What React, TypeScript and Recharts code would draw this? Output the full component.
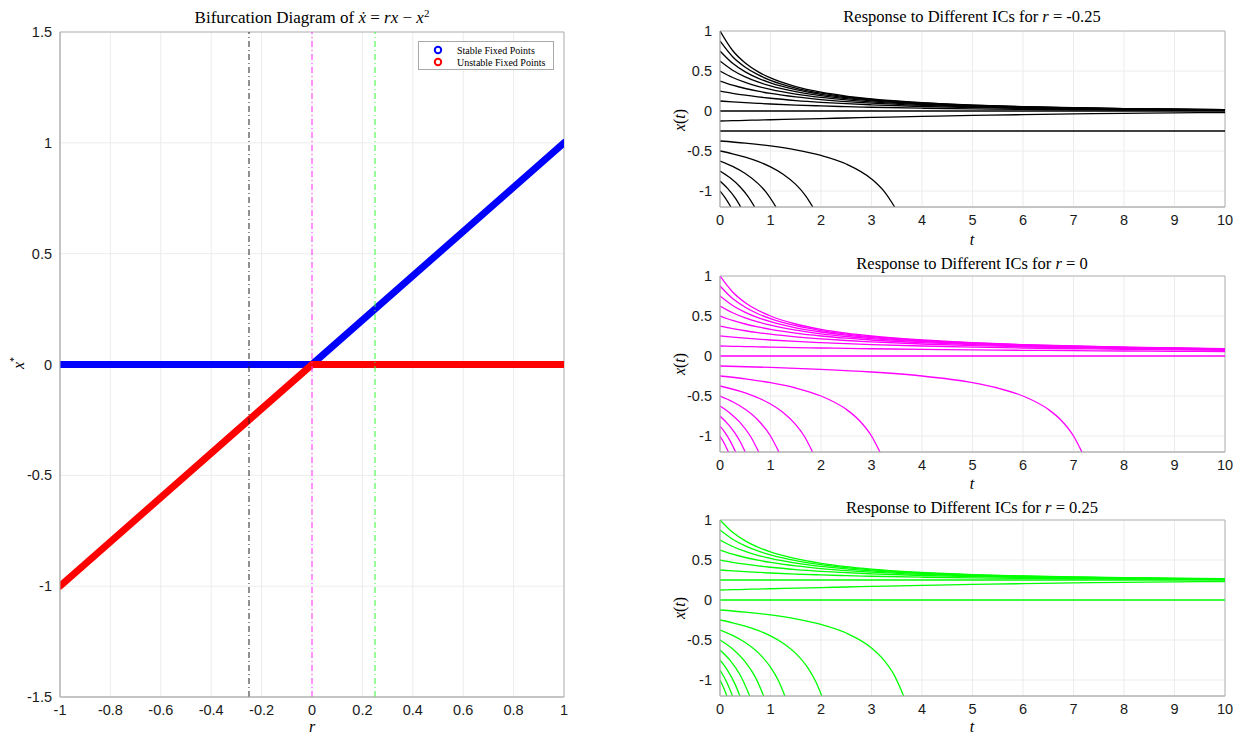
import React from "react"
import { LineChart, Line, XAxis, YAxis, CartesianGrid, ReferenceLine, ReferenceArea } from "recharts"

type Curve = { x0: number; t?: number[]; x: number[] }

const sans = "'Liberation Sans', Arial, Helvetica, sans-serif"
const serif = "'Liberation Serif', 'DejaVu Serif', serif"
const axisGray = "#b4b4b4"
const gridGray = "#ececec"
const tickStyle = { fill: "#1a1a1a", fontSize: 14.5, fontFamily: sans }

// left panel
const rTicks = [-1, -0.8, -0.6, -0.4, -0.2, 0, 0.2, 0.4, 0.6, 0.8, 1]
const xStarTicks = [-1.5, -1, -0.5, 0, 0.5, 1, 1.5]
const stableBranch = [{ r: -1, x: 0 }, { r: 0, x: 0 }, { r: 1, x: 1 }]
const unstableBranch = [{ r: -1, x: -1 }, { r: 0, x: 0 }, { r: 1, x: 0 }]
const markerLines = [
  { r: -0.25, color: "#222222" },
  { r: 0, color: "#ff33ff" },
  { r: 0.25, color: "#33ff33" },
]

// right panels
const tTicks = [0, 1, 2, 3, 4, 5, 6, 7, 8, 9, 10]
const xtTicks = [-1, -0.5, 0, 0.5, 1]
const tGrid = [0, 0.25, 0.5, 0.75, 1, 1.5, 2, 2.5, 3, 4, 5, 6, 7, 8, 9, 10]

const curvesNeg: Curve[] = [
  { x0: 1, x: [1, 0.7562, 0.6003, 0.4923, 0.4132, 0.3054, 0.2356, 0.1872, 0.1519, 0.1043, 0.0743, 0.0543, 0.0404, 0.0304, 0.023, 0.0176] },
  { x0: 0.875, x: [0.875, 0.6782, 0.5472, 0.4538, 0.3841, 0.2871, 0.2233, 0.1783, 0.1452, 0.1002, 0.0717, 0.0525, 0.0391, 0.0294, 0.0223, 0.017] },
  { x0: 0.75, x: [0.75, 0.5962, 0.4894, 0.411, 0.3511, 0.266, 0.2086, 0.1677, 0.1372, 0.0953, 0.0684, 0.0502, 0.0375, 0.0282, 0.0215, 0.0164] },
  { x0: 0.625, x: [0.625, 0.5099, 0.4263, 0.363, 0.3134, 0.2411, 0.1911, 0.1547, 0.1273, 0.0891, 0.0643, 0.0474, 0.0354, 0.0268, 0.0204, 0.0156] },
  { x0: 0.5, x: [0.5, 0.4189, 0.3573, 0.3089, 0.27, 0.2114, 0.1697, 0.1387, 0.1149, 0.0812, 0.059, 0.0437, 0.0328, 0.0248, 0.0189, 0.0145] },
  { x0: 0.375, x: [0.375, 0.3229, 0.2813, 0.2474, 0.2193, 0.1754, 0.143, 0.1183, 0.0989, 0.0708, 0.0519, 0.0386, 0.0291, 0.0221, 0.0169, 0.013] },
  { x0: 0.25, x: [0.25, 0.2214, 0.1974, 0.177, 0.1594, 0.1309, 0.1088, 0.0914, 0.0773, 0.0564, 0.0418, 0.0314, 0.0238, 0.0181, 0.0139, 0.0107] },
  { x0: 0.125, x: [0.125, 0.114, 0.1042, 0.0955, 0.0877, 0.0743, 0.0634, 0.0543, 0.0467, 0.0349, 0.0264, 0.0201, 0.0154, 0.0118, 0.0091, 0.007] },
  { x0: 0, t: [0, 10], x: [0, 0] },
  { x0: -0.125, x: [-0.125, -0.1211, -0.1172, -0.1133, -0.1095, -0.1018, -0.0944, -0.0872, -0.0802, -0.0672, -0.0557, -0.0456, -0.037, -0.0298, -0.0238, -0.019] },
  { x0: -0.25, t: [0, 10], x: [-0.25, -0.25] },
  { x0: -0.375, t: [0, 0.5, 1, 1.5, 2, 2.5, 3, 3.25, 3.46], x: [-0.375, -0.4017, -0.4371, -0.4854, -0.555, -0.6627, -0.8494, -1.0047, -1.2] },
  { x0: -0.5, t: [0, 0.25, 0.5, 0.75, 1, 1.25, 1.5, 1.7, 1.838], x: [-0.5, -0.5345, -0.5768, -0.6299, -0.6983, -0.7897, -0.9174, -1.0629, -1.2] },
  { x0: -0.625, t: [0, 0.25, 0.5, 0.75, 0.9, 1.109], x: [-0.625, -0.6919, -0.781, -0.9049, -1.0056, -1.2] },
  { x0: -0.75, t: [0, 0.2, 0.4, 0.55, 0.687], x: [-0.75, -0.8357, -0.9498, -1.0635, -1.2] },
  { x0: -0.875, t: [0, 0.15, 0.3, 0.411], x: [-0.875, -0.9674, -1.0866, -1.2] },
  { x0: -1, t: [0, 0.1, 0.216], x: [-1, -1.0822, -1.2] },
]

const curvesZero: Curve[] = [
  { x0: 1, x: [1, 0.8, 0.6667, 0.5714, 0.5, 0.4, 0.3333, 0.2857, 0.25, 0.2, 0.1667, 0.1429, 0.125, 0.1111, 0.1, 0.0909] },
  { x0: 0.875, x: [0.875, 0.7179, 0.6087, 0.5283, 0.4667, 0.3784, 0.3182, 0.2745, 0.2414, 0.1944, 0.1628, 0.14, 0.1228, 0.1094, 0.0986, 0.0897] },
  { x0: 0.75, x: [0.75, 0.6316, 0.5455, 0.48, 0.4286, 0.3529, 0.3, 0.2609, 0.2308, 0.1875, 0.1579, 0.1364, 0.12, 0.1071, 0.0968, 0.0882] },
  { x0: 0.625, x: [0.625, 0.5405, 0.4762, 0.4255, 0.3846, 0.3226, 0.2778, 0.2439, 0.2174, 0.1786, 0.1515, 0.1316, 0.1163, 0.1042, 0.0943, 0.0862] },
  { x0: 0.5, x: [0.5, 0.4444, 0.4, 0.3636, 0.3333, 0.2857, 0.25, 0.2222, 0.2, 0.1667, 0.1429, 0.125, 0.1111, 0.1, 0.0909, 0.0833] },
  { x0: 0.375, x: [0.375, 0.3429, 0.3158, 0.2927, 0.2727, 0.24, 0.2143, 0.1935, 0.1765, 0.15, 0.1304, 0.1154, 0.1034, 0.0938, 0.0857, 0.0789] },
  { x0: 0.25, x: [0.25, 0.2353, 0.2222, 0.2105, 0.2, 0.1818, 0.1667, 0.1538, 0.1429, 0.125, 0.1111, 0.1, 0.0909, 0.0833, 0.0769, 0.0714] },
  { x0: 0.125, x: [0.125, 0.1212, 0.1176, 0.1143, 0.1111, 0.1053, 0.1, 0.0952, 0.0909, 0.0833, 0.0769, 0.0714, 0.0667, 0.0625, 0.0588, 0.0556] },
  { x0: 0, t: [0, 10], x: [0, 0] },
  { x0: -0.125, t: [0, 1, 2, 3, 4, 5, 5.5, 6, 6.5, 6.75, 7, 7.167], x: [-0.125, -0.1429, -0.1667, -0.2, -0.25, -0.3333, -0.4, -0.5, -0.6667, -0.8, -1, -1.2] },
  { x0: -0.25, t: [0, 0.5, 1, 1.5, 2, 2.5, 2.75, 3, 3.167], x: [-0.25, -0.2857, -0.3333, -0.4, -0.5, -0.6667, -0.8, -1, -1.2] },
  { x0: -0.375, t: [0, 0.5, 1, 1.25, 1.5, 1.667, 1.833], x: [-0.375, -0.4615, -0.6, -0.7059, -0.8571, -1, -1.2] },
  { x0: -0.5, t: [0, 0.25, 0.5, 0.75, 1, 1.167], x: [-0.5, -0.5714, -0.6667, -0.8, -1, -1.2] },
  { x0: -0.625, t: [0, 0.2, 0.4, 0.6, 0.767], x: [-0.625, -0.7143, -0.8333, -1, -1.2] },
  { x0: -0.75, t: [0, 0.15, 0.3, 0.4, 0.5], x: [-0.75, -0.8451, -0.9677, -1.0714, -1.2] },
  { x0: -0.875, t: [0, 0.1, 0.2, 0.31], x: [-0.875, -0.9589, -1.0606, -1.2] },
  { x0: -1, t: [0, 0.08, 0.167], x: [-1, -1.087, -1.2] },
]

const curvesPos: Curve[] = [
  { x0: 1, x: [1, 0.8462, 0.7394, 0.661, 0.6011, 0.516, 0.4586, 0.4177, 0.3872, 0.3453, 0.3184, 0.3002, 0.2875, 0.2782, 0.2715, 0.2664] },
  { x0: 0.875, x: [0.875, 0.7599, 0.6763, 0.613, 0.5634, 0.4911, 0.4411, 0.4047, 0.3773, 0.3391, 0.3143, 0.2974, 0.2854, 0.2768, 0.2704, 0.2656] },
  { x0: 0.75, x: [0.75, 0.6689, 0.6073, 0.5589, 0.52, 0.4614, 0.4197, 0.3887, 0.3649, 0.3312, 0.309, 0.2937, 0.2828, 0.2748, 0.2689, 0.2645] },
  { x0: 0.625, x: [0.625, 0.5729, 0.5313, 0.4974, 0.4693, 0.4254, 0.393, 0.3683, 0.3489, 0.3208, 0.3019, 0.2886, 0.2791, 0.2721, 0.2669, 0.263] },
  { x0: 0.5, x: [0.5, 0.4714, 0.4474, 0.427, 0.4094, 0.3809, 0.3588, 0.3414, 0.3273, 0.3064, 0.2918, 0.2814, 0.2738, 0.2681, 0.2639, 0.2607] },
  { x0: 0.375, x: [0.375, 0.364, 0.3542, 0.3455, 0.3377, 0.3243, 0.3134, 0.3043, 0.2967, 0.2849, 0.2764, 0.2701, 0.2654, 0.2618, 0.2591, 0.257] },
  { x0: 0.25, t: [0, 10], x: [0.25, 0.25] },
  { x0: 0.125, x: [0.125, 0.1289, 0.1328, 0.1367, 0.1405, 0.1482, 0.1556, 0.1628, 0.1698, 0.1828, 0.1943, 0.2044, 0.213, 0.2202, 0.2262, 0.231] },
  { x0: 0, t: [0, 10], x: [0, 0] },
  { x0: -0.125, t: [0, 0.5, 1, 1.5, 2, 2.5, 3, 3.25, 3.45, 3.637], x: [-0.125, -0.1517, -0.1871, -0.2354, -0.305, -0.4127, -0.5994, -0.7547, -0.9387, -1.2] },
  { x0: -0.25, t: [0, 0.25, 0.5, 0.75, 1, 1.25, 1.5, 1.75, 1.9, 2.016], x: [-0.25, -0.2845, -0.3268, -0.3799, -0.4483, -0.5397, -0.6674, -0.8582, -1.0256, -1.2] },
  { x0: -0.375, t: [0, 0.25, 0.5, 0.75, 1, 1.15, 1.286], x: [-0.375, -0.4419, -0.531, -0.6549, -0.8389, -0.9991, -1.2] },
  { x0: -0.5, t: [0, 0.25, 0.5, 0.7, 0.865], x: [-0.5, -0.6111, -0.7722, -0.9646, -1.2] },
  { x0: -0.625, t: [0, 0.2, 0.4, 0.589], x: [-0.625, -0.7536, -0.9371, -1.2] },
  { x0: -0.75, t: [0, 0.15, 0.3, 0.394], x: [-0.75, -0.8795, -1.0549, -1.2] },
  { x0: -0.875, t: [0, 0.125, 0.248], x: [-0.875, -1.0156, -1.2] },
  { x0: -1, t: [0, 0.07, 0.136], x: [-1, -1.095, -1.2] },
]

const toRows = (c: Curve) => (c.t ?? tGrid).map((t, i) => ({ t, x: c.x[i] }))

function Txt({ x, y, size = 16.5, rotate = false, children }: any) {
  return (
    <div
      style={{
        position: "absolute",
        left: x,
        top: y,
        transform: `translate(-50%, -50%)${rotate ? " rotate(-90deg)" : ""}`,
        fontFamily: serif,
        fontSize: size,
        color: "#000",
        whiteSpace: "nowrap",
        lineHeight: 1,
      }}
    >
      {children}
    </div>
  )
}

function ResponsePanel({ top, color, curves }: { top: number; color: string; curves: Curve[] }) {
  return (
    <div style={{ position: "absolute", left: 640, top, width: 600, height: 240 }}>
      <LineChart width={600} height={240} margin={{ top: 31, right: 15, bottom: 3, left: 40 }}>
        <CartesianGrid stroke={gridGray} />
        <XAxis
          dataKey="t"
          type="number"
          domain={[0, 10]}
          ticks={tTicks}
          interval={0}
          allowDataOverflow
          height={30}
          tickLine={false}
          axisLine={{ stroke: axisGray }}
          tick={tickStyle}
        />
        <YAxis
          type="number"
          domain={[-1.2, 1]}
          ticks={xtTicks}
          interval={0}
          allowDataOverflow
          width={40}
          tickLine={false}
          axisLine={{ stroke: axisGray }}
          tick={tickStyle}
        />
        {curves.map((c, i) => (
          <Line
            key={i}
            data={toRows(c)}
            dataKey="x"
            type="monotone"
            stroke={color}
            strokeWidth={1.3}
            dot={false}
            activeDot={false}
            isAnimationActive={false}
          />
        ))}
        <ReferenceArea x1={0} x2={10} y1={-1.2} y2={1} fill="none" stroke={axisGray} />
      </LineChart>
    </div>
  )
}

export default function App() {
  return (
    <div style={{ position: "absolute", left: 0, top: 0, width: 1245, height: 734, background: "#fff", overflow: "hidden" }}>
      <div style={{ position: "absolute", left: 0, top: 0, width: 580, height: 734 }}>
        <LineChart width={580} height={734} margin={{ top: 32, right: 16, bottom: 7, left: 16 }}>
          <CartesianGrid stroke={gridGray} />
          <XAxis
            dataKey="r"
            type="number"
            domain={[-1, 1]}
            ticks={rTicks}
            interval={0}
            allowDataOverflow
            height={30}
            tickLine={false}
            axisLine={{ stroke: axisGray }}
            tick={tickStyle}
          />
          <YAxis
            type="number"
            domain={[-1.5, 1.5]}
            ticks={xStarTicks}
            interval={0}
            allowDataOverflow
            width={44}
            tickLine={false}
            axisLine={{ stroke: axisGray }}
            tick={tickStyle}
          />
          <Line
            data={stableBranch}
            dataKey="x"
            type="linear"
            stroke="#0000ff"
            strokeWidth={7}
            strokeLinecap="round"
            dot={false}
            activeDot={false}
            isAnimationActive={false}
          />
          <Line
            data={unstableBranch}
            dataKey="x"
            type="linear"
            stroke="#ff0000"
            strokeWidth={7}
            strokeLinecap="round"
            dot={false}
            activeDot={false}
            isAnimationActive={false}
          />
          {markerLines.map((m) => (
            <ReferenceLine key={m.r} x={m.r} stroke={m.color} strokeWidth={1} strokeDasharray="6 3 1 3" />
          ))}
          <ReferenceArea x1={-1} x2={1} y1={-1.5} y2={1.5} fill="none" stroke={axisGray} />
        </LineChart>
      </div>

      {/* legend */}
      <div
        style={{
          position: "absolute",
          left: 418,
          top: 41,
          width: 134,
          height: 27,
          border: "1px solid #a8a8a8",
          background: "#fff",
          fontFamily: serif,
          fontSize: 10,
        }}
      >
        {[
          { label: "Stable Fixed Points", color: "#0000ff" },
          { label: "Unstable Fixed Points", color: "#ff0000" },
        ].map((item, i) => (
          <div key={i} style={{ position: "absolute", left: 0, top: 2 + i * 12, height: 12, display: "flex", alignItems: "center" }}>
            <svg width={38} height={12} style={{ display: "block" }}>
              <circle cx={19} cy={6} r={3.2} fill="none" stroke={item.color} strokeWidth={2} />
            </svg>
            <span style={{ whiteSpace: "nowrap" }}>{item.label}</span>
          </div>
        ))}
      </div>

      <Txt x={312} y={17} size={17}>
        Bifurcation Diagram of <i>ẋ</i> = <i>rx</i> − <i>x</i>
        <sup style={{ fontSize: 11 }}>2</sup>
      </Txt>
      <Txt x={312} y={727} size={16}>
        <i>r</i>
      </Txt>
      <Txt x={18} y={363} size={16} rotate>
        <i>x</i>
        <sup style={{ fontSize: 10 }}>*</sup>
      </Txt>

      <ResponsePanel top={0} color="#000000" curves={curvesNeg} />
      <ResponsePanel top={245} color="#ff00ff" curves={curvesZero} />
      <ResponsePanel top={489} color="#00ff00" curves={curvesPos} />

      <Txt x={972} y={17}>
        Response to Different ICs for <i>r</i> = -0.25
      </Txt>
      <Txt x={972} y={264}>
        Response to Different ICs for <i>r</i> = 0
      </Txt>
      <Txt x={972} y={508}>
        Response to Different ICs for <i>r</i> = 0.25
      </Txt>

      <Txt x={972} y={240} size={16}>
        <i>t</i>
      </Txt>
      <Txt x={972} y={484} size={16}>
        <i>t</i>
      </Txt>
      <Txt x={972} y={727} size={16}>
        <i>t</i>
      </Txt>

      <Txt x={680} y={120} size={16} rotate>
        <i>x</i>(<i>t</i>)
      </Txt>
      <Txt x={680} y={364} size={16} rotate>
        <i>x</i>(<i>t</i>)
      </Txt>
      <Txt x={680} y={608} size={16} rotate>
        <i>x</i>(<i>t</i>)
      </Txt>
    </div>
  )
}
